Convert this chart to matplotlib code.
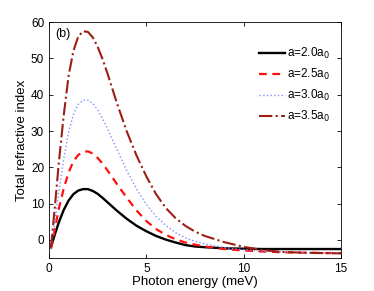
import matplotlib
matplotlib.use("Agg")
import matplotlib.pyplot as plt

plt.rcParams["font.family"] = ["Liberation Sans", "DejaVu Sans"]

# photon energy (meV)
energy = [0.1, 0.3, 0.5, 0.75, 1.0, 1.25, 1.5, 1.75, 2.0, 2.25, 2.5, 2.75, 3.0,
          3.5, 4.0, 4.5, 5.0, 5.5, 6.0, 6.5, 7.0, 7.5, 8.0, 9.0, 10.0, 11.0,
          12.0, 13.0, 14.0, 15.0]

n_a20 = [-2.0, 1.5, 4.8, 8.2, 10.8, 12.6, 13.6, 14.0, 14.0, 13.5, 12.7, 11.6,
         10.4, 8.0, 5.8, 3.9, 2.4, 1.1, 0.1, -0.7, -1.4, -1.8, -2.0, -2.3,
         -2.4, -2.5, -2.5, -2.5, -2.5, -2.5]
n_a25 = [-2.5, 3.0, 8.5, 14.0, 18.5, 21.6, 23.4, 24.3, 24.4, 23.8, 22.6, 21.0,
         19.2, 15.3, 11.6, 8.1, 5.2, 3.0, 1.4, 0.2, -0.7, -1.3, -1.8, -2.5,
         -2.9, -3.2, -3.4, -3.5, -3.6, -3.6]
n_a30 = [-2.5, 5.0, 13.0, 22.0, 29.5, 34.5, 37.3, 38.5, 38.5, 37.6, 35.8, 33.4,
         30.7, 24.8, 19.0, 14.0, 9.8, 6.5, 4.0, 2.0, 0.6, -0.4, -1.1, -2.1,
         -2.7, -3.1, -3.3, -3.5, -3.6, -3.6]
n_a35 = [-2.0, 9.0, 21.0, 34.0, 45.0, 52.0, 56.0, 57.5, 57.3, 55.8, 53.2, 49.8,
         45.9, 37.5, 29.8, 23.2, 17.5, 12.6, 8.8, 6.0, 3.9, 2.3, 1.1, -0.6,
         -1.9, -2.8, -3.3, -3.5, -3.6, -3.7]

labels = ["a=2.0a$_0$", "a=2.5a$_0$", "a=3.0a$_0$", "a=3.5a$_0$"]

fig = plt.figure(figsize=(3.74, 2.91), dpi=100)
ax = fig.add_axes([0.131, 0.113, 0.781, 0.811])

ax.plot(energy, n_a20, color="black", lw=1.7, ls="-", label=labels[0])
ax.plot(energy, n_a25, color="#ff1010", lw=1.6, ls=(0, (3.5, 2.5)), label=labels[1])
ax.plot(energy, n_a30, color="#7f8fff", lw=1.0, ls=":", label=labels[2])
ax.plot(energy, n_a35, color="#9b1f12", lw=1.5, ls="-.", label=labels[3])

ax.set_xlim(0, 15)
ax.set_ylim(-5, 60)
ax.set_xticks([0, 5, 10, 15])
ax.set_yticks(range(0, 61, 10))
ax.tick_params(direction="in", top=True, right=True, labelsize=8.5,
               length=3, width=0.6)
for s in ax.spines.values():
    s.set_linewidth(0.6)

ax.set_xlabel("Photon energy (meV)", fontsize=9.5, labelpad=1)
ax.set_ylabel("Total refractive index", fontsize=9.5, labelpad=2)
ax.text(0.02, 0.975, "(b)", transform=ax.transAxes, fontsize=9,
        ha="left", va="top")

ax.legend(loc="upper right", frameon=False, fontsize=8.5, handlelength=2.2,
          handletextpad=0.2, labelspacing=0.5, bbox_to_anchor=(1.0, 0.945))

fig.savefig("out.png", dpi=100)
